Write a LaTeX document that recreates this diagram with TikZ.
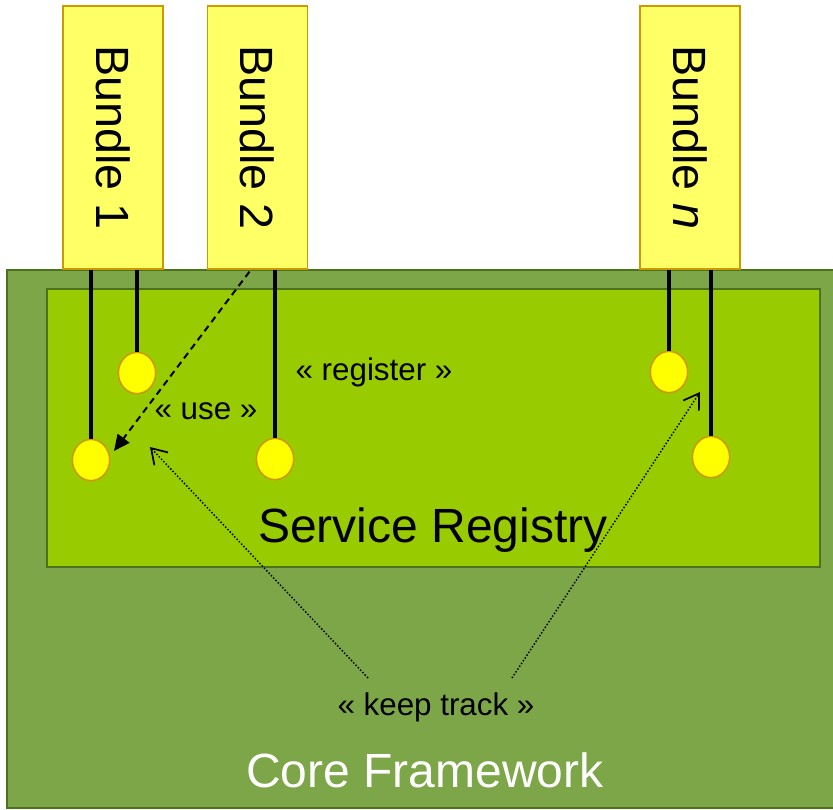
\documentclass[tikz,border=0pt]{standalone}
\usepackage{fontspec}
\setmainfont{Liberation Sans}
\usepackage{tikz}
\usetikzlibrary{arrows.meta, positioning, calc, shapes.geometric}
\definecolor{bundlefill}{RGB}{255, 255, 102}
\definecolor{bundleedge}{RGB}{204, 153, 0}
\definecolor{corefill}{RGB}{124, 166, 72}
\definecolor{coreedge}{RGB}{76, 115, 28}
\definecolor{regfill}{RGB}{153, 204, 0}
\definecolor{svcfill}{RGB}{255, 255, 0}

\begin{document}
\begin{tikzpicture}[x=0.75pt, y=-0.75pt,
    bundle/.style={draw=bundleedge, fill=bundlefill, line width=1.2pt, rotate=-90,
        minimum width=197pt, minimum height=75pt, inner sep=0pt,
        font=\fontsize{35}{40}\selectfont},
    svc/.style={ellipse, draw=bundleedge, fill=svcfill, line width=1.2pt,
        minimum width=28pt, minimum height=31pt, inner sep=0pt},
    wire/.style={line width=3pt},
    tag/.style={font=\fontsize{23.5}{28}\selectfont, inner sep=0pt},
    bigtag/.style={font=\fontsize{36}{42}\selectfont, inner sep=0pt}]
    \clip (0, 0) rectangle (833, 810);

    % 框架与注册表
    \draw[draw=coreedge, fill=corefill, line width=1.5pt] (7, 270) rectangle (850, 808);
    \draw[draw=coreedge, fill=regfill, line width=1.5pt] (47, 289) rectangle (820, 567);
    \node[bigtag] (reg) at (433, 530) {Service Registry};
    \node[bigtag, white] (core) at (425, 770) {Core Framework};

    % Bundles
    \node[bundle] (b1) at (113, 137.5) {Bundle 1};
    \node[bundle] (b2) at (257.5, 137.5) {Bundle 2};
    \node[bundle] (bn) at (690, 137.5) {Bundle \textit{n}};

    % 服务
    \node[svc] (s1a) at (137, 373) {};
    \node[svc] (s1b) at (91, 460) {};
    \node[svc] (s2) at (275, 459) {};
    \node[svc] (sna) at (669, 372) {};
    \node[svc] (snb) at (711, 457) {};

    \foreach \b/\s in {b1/s1a, b1/s1b, b2/s2, bn/sna, bn/snb}
        \draw[wire] (\b.east -| \s) -- (\s.north);

    % 标注
    \node[tag] (regtag) at (374, 372) {« register »};
    \node[tag] (usetag) at (206, 411) {« use »};
    \node[tag] (kt) at (436, 707) {« keep track »};

    % 使用关系
    \coordinate (usetip) at (114, 451);
    \draw[line width=1.5pt, dash pattern=on 5pt off 3.5pt,
        -{Triangle[length=12pt, width=11pt]}] ($(b2.east)+(-8, 2)$) -- (usetip);

    % 跟踪
    \coordinate (ktl) at (368, 678);
    \coordinate (ktr) at (512, 678);
    \coordinate (tipl) at (150, 447);
    \coordinate (tipr) at (700, 392);
    \foreach \f/\t in {ktl/tipl, ktr/tipr}
        \draw[line width=1.1pt, dash pattern=on 1.1pt off 1.4pt,
            -{Straight Barb[length=11pt, width=14pt, line width=1.3pt]}] (\f) -- (\t);
\end{tikzpicture}
\end{document}
